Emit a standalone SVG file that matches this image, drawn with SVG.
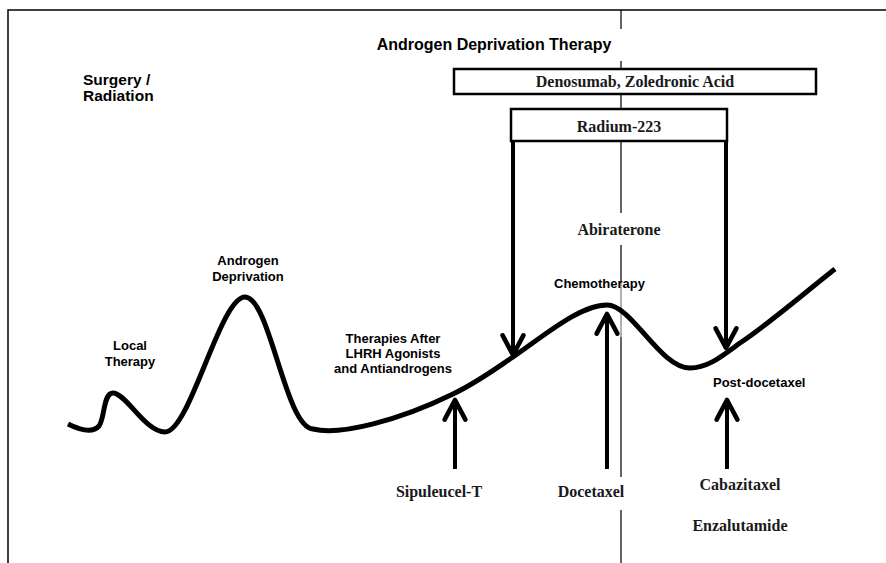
<svg xmlns="http://www.w3.org/2000/svg" width="886" height="563" viewBox="0 0 886 563">
<style>
.sans{font-family:"Liberation Sans",Arial,sans-serif;font-weight:bold;fill:#000}
.serif{font-family:"Liberation Serif","Times New Roman",serif;font-weight:bold;fill:#1a1a1a;font-size:16px}
.box{fill:#fff;stroke:#000;stroke-width:2.5}
.thick{fill:none;stroke:#000;stroke-width:4}
.div{stroke:#000;stroke-width:1.2}
</style>
<defs>
<marker id="chev" markerUnits="userSpaceOnUse" markerWidth="30" markerHeight="30" viewBox="-22 -12 26 24" refX="0" refY="0" orient="auto">
<path d="M -17 -9 L 0 0 L -17 9" fill="none" stroke="#000" stroke-width="4" stroke-linejoin="round" stroke-linecap="round"/>
</marker>
</defs>
<rect width="886" height="563" fill="#fff"/>
<g id="frame">
<path d="M 8 563 L 8 10 L 886 10" fill="none" stroke="#000" stroke-width="1.5"/>
</g>
<g id="divider">
<path class="div" d="M 621 10 V 29 M 621 61 V 69 M 621 94 V 109 M 621 141 V 213 M 621 245 V 282 M 621 337 V 477 M 621 510 V 563"/>
<path d="M 621 282 V 337" stroke="#999" stroke-width="1.5"/>
</g>
<g id="curve">
<path d="M 68 424 C 78 429 92 434 99 426 C 105 418 103 393 113 393 C 126 393 145 432 165 432 C 190 432 220 297 245 297 C 270 297 285 427 313 429 C 340 436 400 420 453 394 C 478 382 498 367 513 357 C 545 335 580 305 607 305 C 632 305 660 368 690 368 C 708 368 722 356 740 343 C 770 323 808 290 835 269" fill="none" stroke="#000" stroke-width="5"/>
</g>
<g id="title">
<text class="sans" x="494" y="50" font-size="16" text-anchor="middle">Androgen Deprivation Therapy</text>
</g>
<g id="surgery">
<text class="sans" x="83" y="85" font-size="15.5">Surgery /</text>
<text class="sans" x="83" y="101" font-size="15.5">Radiation</text>
</g>
<g id="denosumab">
<rect class="box" x="454" y="69" width="362" height="25"/>
<text class="serif" x="635" y="87" text-anchor="middle">Denosumab, Zoledronic Acid</text>
</g>
<g id="radium">
<rect class="box" x="511" y="109" width="216" height="32" stroke-width="2"/>
<text class="serif" x="619" y="132" text-anchor="middle">Radium-223</text>
</g>
<g id="abiraterone">
<text class="serif" x="619" y="235" text-anchor="middle">Abiraterone</text>
</g>
<g id="local-therapy">
<text class="sans" x="130" y="350" font-size="13" text-anchor="middle">Local</text>
<text class="sans" x="130" y="366" font-size="13" text-anchor="middle">Therapy</text>
</g>
<g id="androgen-deprivation">
<text class="sans" x="248" y="265" font-size="13" text-anchor="middle">Androgen</text>
<text class="sans" x="248" y="281" font-size="13" text-anchor="middle">Deprivation</text>
</g>
<g id="therapies-after">
<text class="sans" x="393" y="343" font-size="13" text-anchor="middle">Therapies After</text>
<text class="sans" x="393" y="358" font-size="13" text-anchor="middle">LHRH Agonists</text>
<text class="sans" x="393" y="373" font-size="13" text-anchor="middle">and Antiandrogens</text>
</g>
<g id="chemotherapy">
<text class="sans" x="554" y="288" font-size="12.5" textLength="91" lengthAdjust="spacingAndGlyphs">Chemotherapy</text>
</g>
<g id="post-docetaxel">
<text class="sans" x="713" y="387" font-size="13">Post-docetaxel</text>
</g>
<g id="sipuleucel">
<text class="serif" x="439" y="497" text-anchor="middle">Sipuleucel-T</text>
</g>
<g id="docetaxel">
<text class="serif" x="591" y="497" text-anchor="middle">Docetaxel</text>
</g>
<g id="cabazitaxel">
<text class="serif" x="740" y="490" text-anchor="middle">Cabazitaxel</text>
</g>
<g id="enzalutamide">
<text class="serif" x="740" y="531" text-anchor="middle">Enzalutamide</text>
</g>
<g id="connectors">
<path class="thick" d="M 513 141 V 355" marker-end="url(#chev)"/>
<path class="thick" d="M 726 141 V 348" marker-end="url(#chev)"/>
<path class="thick" d="M 455 469 V 400" marker-end="url(#chev)"/>
<path class="thick" d="M 607 469 V 314" marker-end="url(#chev)"/>
<path class="thick" d="M 727 469 V 400" marker-end="url(#chev)"/>
</g>
</svg>
